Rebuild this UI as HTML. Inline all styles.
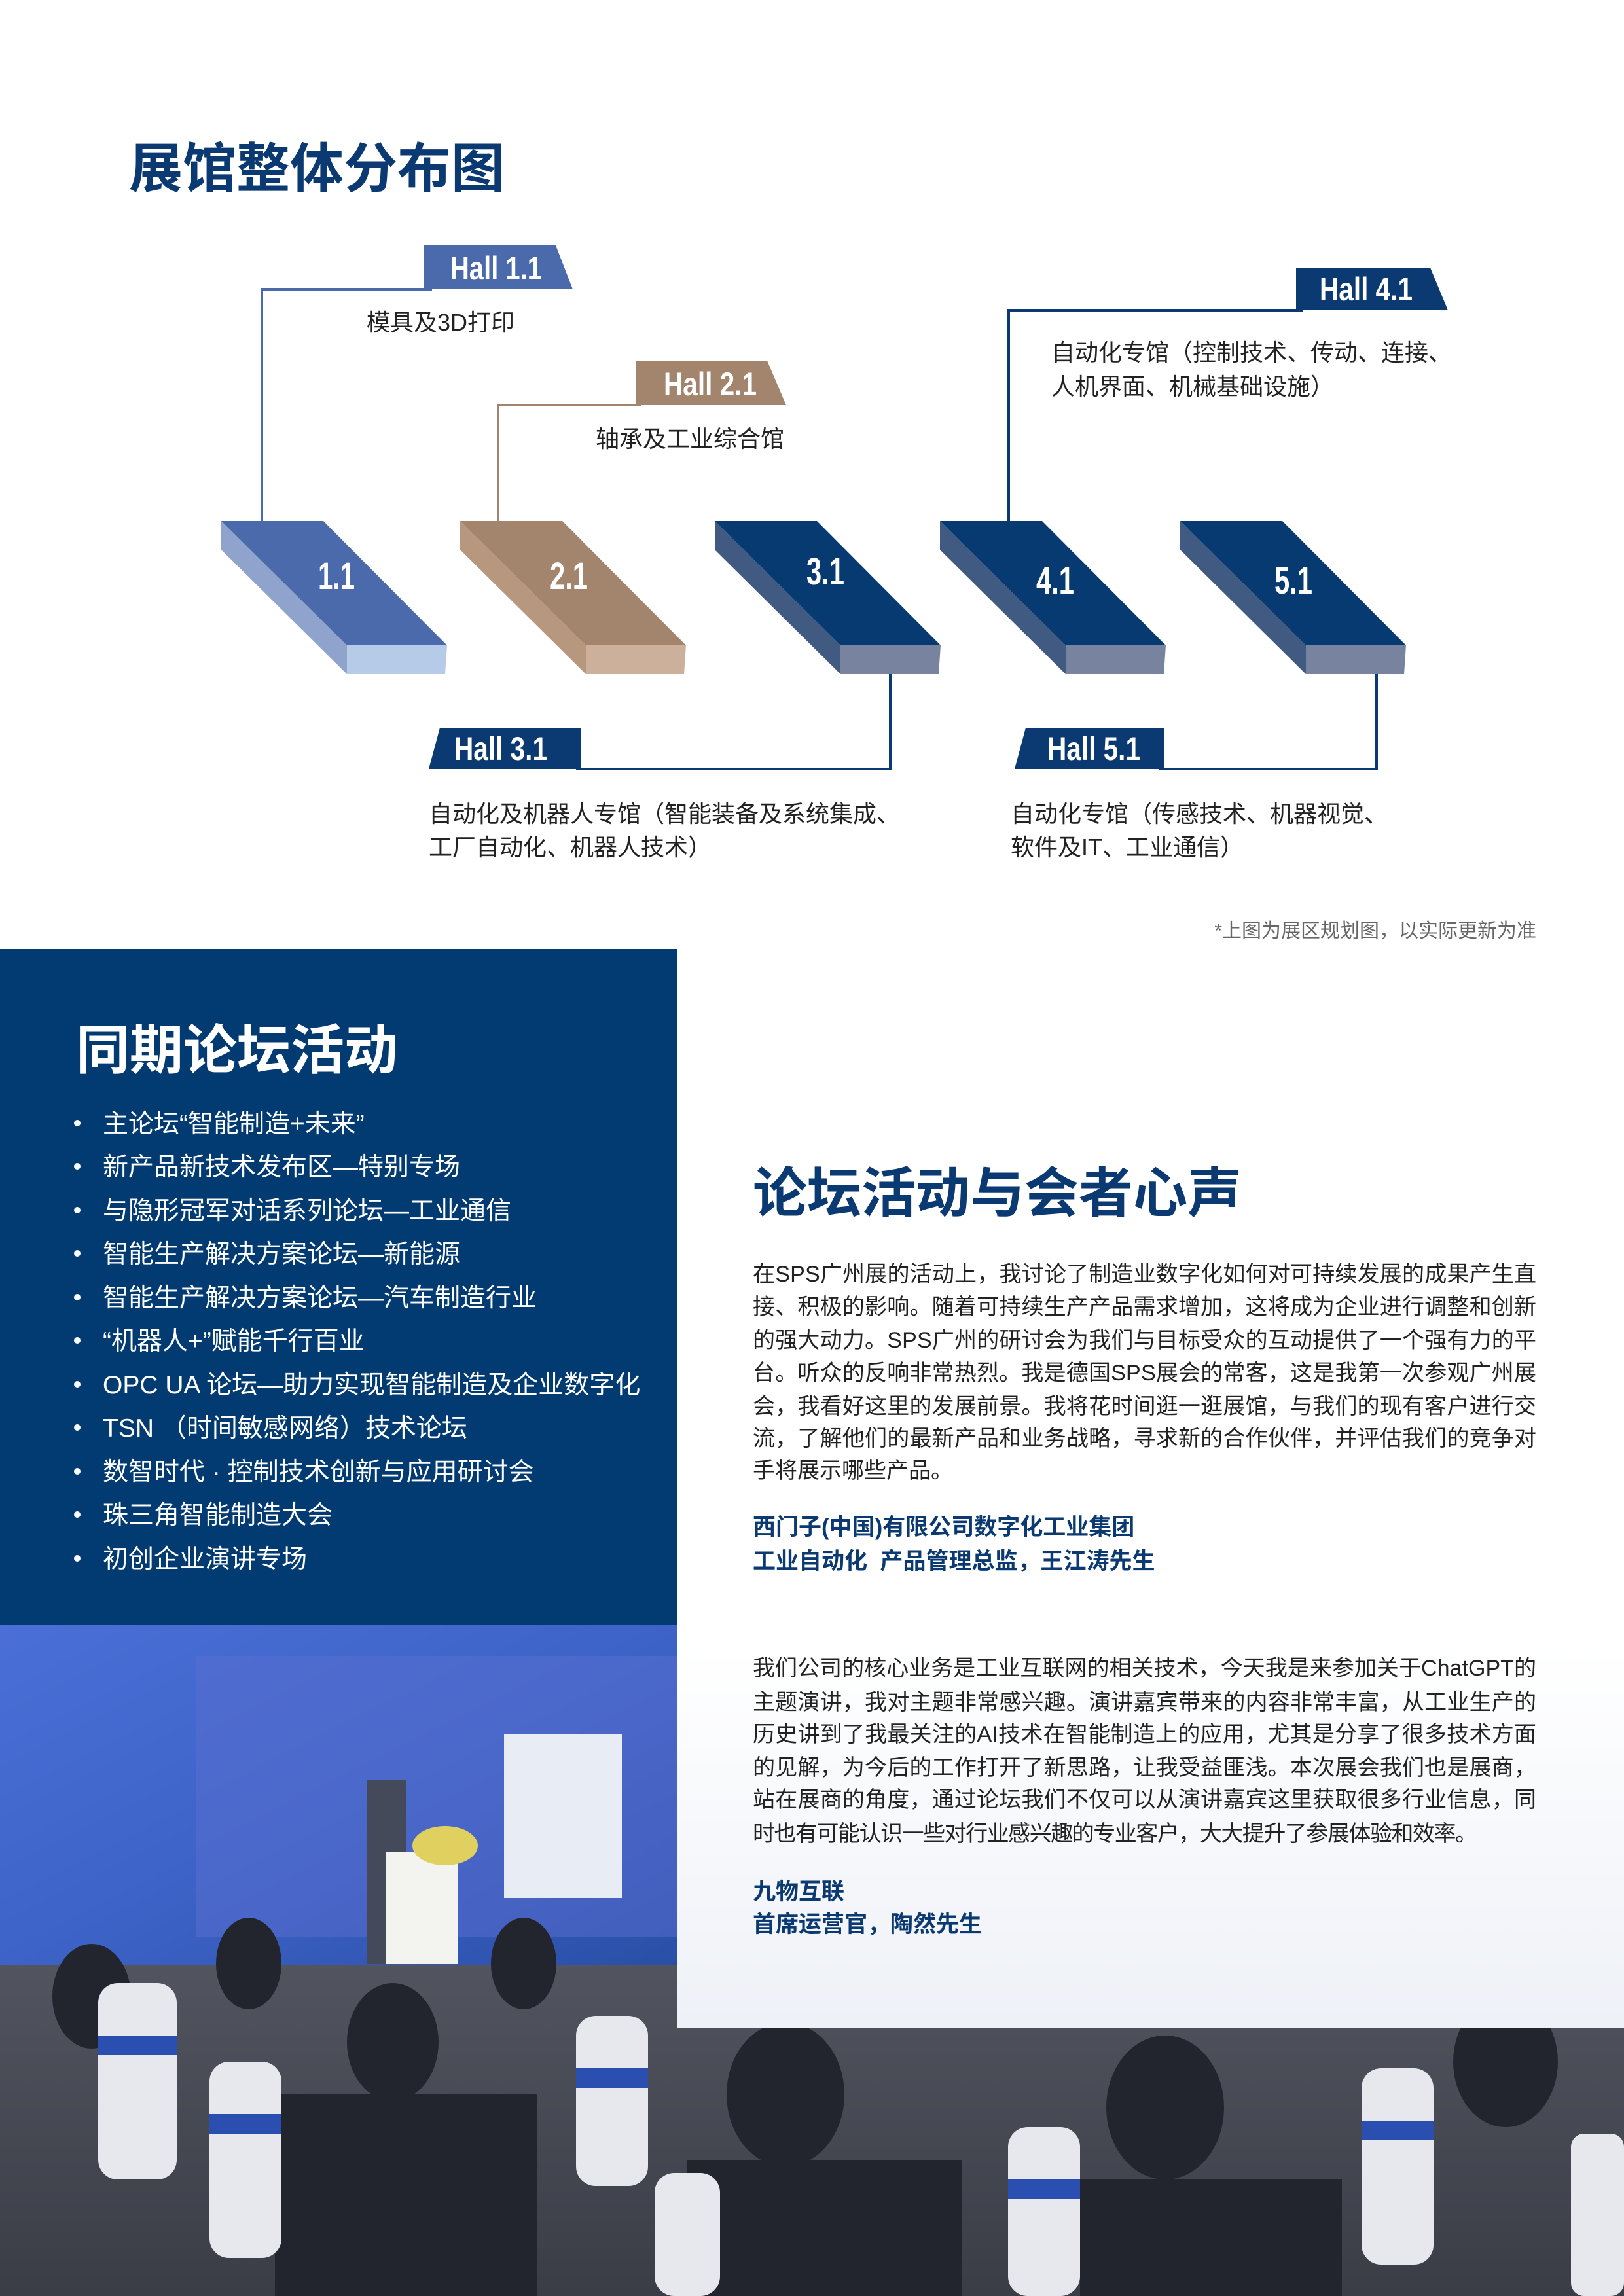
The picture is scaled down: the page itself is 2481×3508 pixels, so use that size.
<!DOCTYPE html>
<html><head><meta charset="utf-8"><style>
html,body{margin:0;padding:0;background:#fff}
svg{display:block}
text{font-family:"Liberation Sans","Noto Sans CJK SC",sans-serif}
.n{font-family:"Liberation Sans Narrow","Liberation Sans",sans-serif;font-weight:700;fill:#fff}
</style></head><body>
<svg width="2481" height="3508" viewBox="0 0 2481 3508" xmlns="http://www.w3.org/2000/svg">
<defs>
<linearGradient id="scr" x1="0" y1="0" x2="1" y2="1"><stop offset="0" stop-color="#4a6fd6"/><stop offset="0.5" stop-color="#3d63c8"/><stop offset="1" stop-color="#2a4fa8"/></linearGradient>
<linearGradient id="crowd" x1="0" y1="0" x2="0" y2="1"><stop offset="0" stop-color="#6a6c78"/><stop offset="1" stop-color="#3a3c46"/></linearGradient>
<linearGradient id="wb" x1="0" y1="0" x2="0" y2="1"><stop offset="0" stop-color="#fff"/><stop offset="0.6" stop-color="#fff"/><stop offset="1" stop-color="#eef1f7"/></linearGradient>
</defs>
<rect width="2481" height="3508" fill="#fff"/>

<text x="197" y="286" font-size="82" font-weight="700" fill="#0b3a72">展馆整体分布图</text>

<g fill="none" stroke-width="4">
<polyline points="660,442 400,442 400,796" stroke="#4a6aab"/>
<polyline points="980,619 761,619 761,796" stroke="#a3846d"/>
<polyline points="1990,474 1541,474 1541,796" stroke="#0b3a72"/>
<polyline points="880,1175 1360,1175 1360,1030" stroke="#0b3a72"/>
<polyline points="1770,1175 2103,1175 2103,1030" stroke="#0b3a72"/>
</g>

<g>
<polygon points="338,796 530,986 530,1030 338,840" fill="#8fa3cc"/>
<polygon points="530,986 683,986 680,1030 530,1030" fill="#b5cbe8"/>
<polygon points="338,796 494,796 683,986 530,986" fill="#4a6aab"/>
</g>
<g transform="translate(365,0)">
<polygon points="338,796 530,986 530,1030 338,840" fill="#b8977f"/>
<polygon points="530,986 683,986 680,1030 530,1030" fill="#cdb09c"/>
<polygon points="338,796 494,796 683,986 530,986" fill="#a3846d"/>
</g>
<g transform="translate(754,0)">
<polygon points="338,796 530,986 530,1030 338,840" fill="#415a82"/>
<polygon points="530,986 683,986 680,1030 530,1030" fill="#7883a0"/>
<polygon points="338,796 494,796 683,986 530,986" fill="#063a70"/>
</g>
<g transform="translate(1098,0)">
<polygon points="338,796 530,986 530,1030 338,840" fill="#415a82"/>
<polygon points="530,986 683,986 680,1030 530,1030" fill="#7883a0"/>
<polygon points="338,796 494,796 683,986 530,986" fill="#063a70"/>
</g>
<g transform="translate(1465,0)">
<polygon points="338,796 530,986 530,1030 338,840" fill="#415a82"/>
<polygon points="530,986 683,986 680,1030 530,1030" fill="#7883a0"/>
<polygon points="338,796 494,796 683,986 530,986" fill="#063a70"/>
</g>
<g>
<text class="n" x="486" y="900" font-size="58" textLength="56" lengthAdjust="spacingAndGlyphs">1.1</text>
<text class="n" x="840" y="900" font-size="58" textLength="58" lengthAdjust="spacingAndGlyphs">2.1</text>
<text class="n" x="1232" y="893" font-size="58" textLength="58" lengthAdjust="spacingAndGlyphs">3.1</text>
<text class="n" x="1583" y="907" font-size="58" textLength="58" lengthAdjust="spacingAndGlyphs">4.1</text>
<text class="n" x="1947" y="907" font-size="58" textLength="58" lengthAdjust="spacingAndGlyphs">5.1</text>
</g>

<polygon points="647,375 849,375 875,442 647,442" fill="#4a6aab"/>
<text class="n" x="688" y="427" font-size="50" textLength="140" lengthAdjust="spacingAndGlyphs">Hall 1.1</text>
<polygon points="972,551 1172,551 1201,619 972,619" fill="#a3846d"/>
<text class="n" x="1014" y="604" font-size="50" textLength="142" lengthAdjust="spacingAndGlyphs">Hall 2.1</text>
<polygon points="1980,409 2185,409 2212,474 1980,474" fill="#0b3a72"/>
<text class="n" x="2016" y="459" font-size="50" textLength="142" lengthAdjust="spacingAndGlyphs">Hall 4.1</text>
<polygon points="672,1112 888,1112 888,1175 655,1175" fill="#0b3a72"/>
<text class="n" x="694" y="1161" font-size="50" textLength="142" lengthAdjust="spacingAndGlyphs">Hall 3.1</text>
<polygon points="1567,1112 1779,1112 1779,1175 1550,1175" fill="#0b3a72"/>
<text class="n" x="1600" y="1161" font-size="50" textLength="142" lengthAdjust="spacingAndGlyphs">Hall 5.1</text>

<g font-size="36" fill="#222">
<text x="560" y="505">模具及3D打印</text>
<text x="910" y="683">轴承及工业综合馆</text>
<text x="1606" y="551">自动化专馆（控制技术、传动、连接、</text>
<text x="1606" y="603">人机界面、机械基础设施）</text>
<text x="655" y="1256">自动化及机器人专馆（智能装备及系统集成、</text>
<text x="655" y="1307">工厂自动化、机器人技术）</text>
<text x="1544" y="1256">自动化专馆（传感技术、机器视觉、</text>
<text x="1544" y="1307">软件及IT、工业通信）</text>
</g>
<text x="2347" y="1432" font-size="30" fill="#666" text-anchor="end">*上图为展区规划图，以实际更新为准</text>

<rect x="0" y="2483" width="2481" height="1025" fill="url(#crowd)"/>
<rect x="0" y="2483" width="1034" height="520" fill="url(#scr)"/>
<rect x="300" y="2530" width="734" height="430" fill="#5a6ed0" opacity="0.5"/>
<rect x="770" y="2650" width="180" height="250" fill="#e8ecf5"/>
<rect x="560" y="2720" width="60" height="280" fill="#444a5a"/>
<rect x="590" y="2830" width="110" height="170" fill="#f3f3f0"/>
<ellipse cx="680" cy="2820" rx="50" ry="30" fill="#e0d060"/>
<g fill="#23252e">
<ellipse cx="140" cy="3050" rx="60" ry="80"/><ellipse cx="380" cy="3000" rx="50" ry="70"/>
<ellipse cx="600" cy="3120" rx="70" ry="90"/><ellipse cx="800" cy="3000" rx="50" ry="70"/>
<ellipse cx="1200" cy="3200" rx="90" ry="110"/><ellipse cx="1780" cy="3220" rx="90" ry="110"/>
<ellipse cx="2300" cy="3150" rx="80" ry="100"/>
<rect x="420" y="3200" width="400" height="308"/><rect x="1050" y="3300" width="420" height="208"/>
<rect x="1650" y="3330" width="400" height="178"/>
</g>
<g fill="#e6e8ee">
<rect x="150" y="3030" width="120" height="300" rx="30"/><rect x="320" y="3150" width="110" height="300" rx="30"/>
<rect x="880" y="3080" width="110" height="260" rx="30"/><rect x="1000" y="3320" width="100" height="188" rx="30"/>
<rect x="1540" y="3250" width="110" height="258" rx="30"/><rect x="2080" y="3160" width="110" height="300" rx="30"/>
<rect x="2400" y="3260" width="81" height="248" rx="20"/>
</g>
<g fill="#2a4fb0">
<rect x="150" y="3110" width="120" height="30"/><rect x="320" y="3230" width="110" height="30"/>
<rect x="880" y="3160" width="110" height="30"/><rect x="1540" y="3330" width="110" height="30"/>
<rect x="2080" y="3240" width="110" height="30"/>
</g>

<rect x="0" y="1450" width="1034" height="1033" fill="#023a72"/>
<text x="116" y="1633" font-size="82" font-weight="700" fill="#fff">同期论坛活动</text>
<g fill="#fff" font-size="39">
<circle cx="118" cy="1716" r="5"/><text x="157" y="1730">主论坛“智能制造+未来”</text>
<circle cx="118" cy="1782" r="5"/><text x="157" y="1796">新产品新技术发布区—特别专场</text>
<circle cx="118" cy="1849" r="5"/><text x="157" y="1863">与隐形冠军对话系列论坛—工业通信</text>
<circle cx="118" cy="1915" r="5"/><text x="157" y="1929">智能生产解决方案论坛—新能源</text>
<circle cx="118" cy="1982" r="5"/><text x="157" y="1996">智能生产解决方案论坛—汽车制造行业</text>
<circle cx="118" cy="2048" r="5"/><text x="157" y="2062">“机器人+”赋能千行百业</text>
<circle cx="118" cy="2115" r="5"/><text x="157" y="2129">OPC UA 论坛—助力实现智能制造及企业数字化</text>
<circle cx="118" cy="2181" r="5"/><text x="157" y="2195">TSN （时间敏感网络）技术论坛</text>
<circle cx="118" cy="2248" r="5"/><text x="157" y="2262">数智时代 · 控制技术创新与应用研讨会</text>
<circle cx="118" cy="2314" r="5"/><text x="157" y="2328">珠三角智能制造大会</text>
<circle cx="118" cy="2381" r="5"/><text x="157" y="2395">初创企业演讲专场</text>
</g>

<rect x="1034" y="1649" width="1447" height="1449" fill="url(#wb)"/>
<text x="1150" y="1852" font-size="83" font-weight="700" fill="#0b3a72">论坛活动与会者心声</text>
<g font-size="34" fill="#222">
<text x="1150" y="1958" textLength="1197" lengthAdjust="spacing">在SPS广州展的活动上，我讨论了制造业数字化如何对可持续发展的成果产生直</text>
<text x="1150" y="2008" textLength="1197" lengthAdjust="spacing">接、积极的影响。随着可持续生产产品需求增加，这将成为企业进行调整和创新</text>
<text x="1150" y="2059" textLength="1197" lengthAdjust="spacing">的强大动力。SPS广州的研讨会为我们与目标受众的互动提供了一个强有力的平</text>
<text x="1150" y="2109" textLength="1197" lengthAdjust="spacing">台。听众的反响非常热烈。我是德国SPS展会的常客，这是我第一次参观广州展</text>
<text x="1150" y="2160" textLength="1197" lengthAdjust="spacing">会，我看好这里的发展前景。我将花时间逛一逛展馆，与我们的现有客户进行交</text>
<text x="1150" y="2209" textLength="1197" lengthAdjust="spacing">流，了解他们的最新产品和业务战略，寻求新的合作伙伴，并评估我们的竞争对</text>
<text x="1150" y="2258">手将展示哪些产品。</text>
</g>
<g font-size="35" font-weight="700" fill="#0b3a72">
<text x="1150" y="2345">西门子(中国)有限公司数字化工业集团</text>
<text x="1150" y="2397" xml:space="preserve">工业自动化  产品管理总监，王江涛先生</text>
</g>
<g font-size="34" fill="#222">
<text x="1150" y="2560" textLength="1197" lengthAdjust="spacing">我们公司的核心业务是工业互联网的相关技术，今天我是来参加关于ChatGPT的</text>
<text x="1150" y="2612" textLength="1197" lengthAdjust="spacing">主题演讲，我对主题非常感兴趣。演讲嘉宾带来的内容非常丰富，从工业生产的</text>
<text x="1150" y="2661" textLength="1197" lengthAdjust="spacing">历史讲到了我最关注的AI技术在智能制造上的应用，尤其是分享了很多技术方面</text>
<text x="1150" y="2712" textLength="1197" lengthAdjust="spacing">的见解，为今后的工作打开了新思路，让我受益匪浅。本次展会我们也是展商，</text>
<text x="1150" y="2761" textLength="1197" lengthAdjust="spacing">站在展商的角度，通过论坛我们不仅可以从演讲嘉宾这里获取很多行业信息，同</text>
<text x="1150" y="2813" textLength="1107" lengthAdjust="spacing">时也有可能认识一些对行业感兴趣的专业客户，大大提升了参展体验和效率。</text>
</g>
<g font-size="35" font-weight="700" fill="#0b3a72">
<text x="1150" y="2902">九物互联</text>
<text x="1150" y="2952">首席运营官，陶然先生</text>
</g>
</svg>
</body></html>
